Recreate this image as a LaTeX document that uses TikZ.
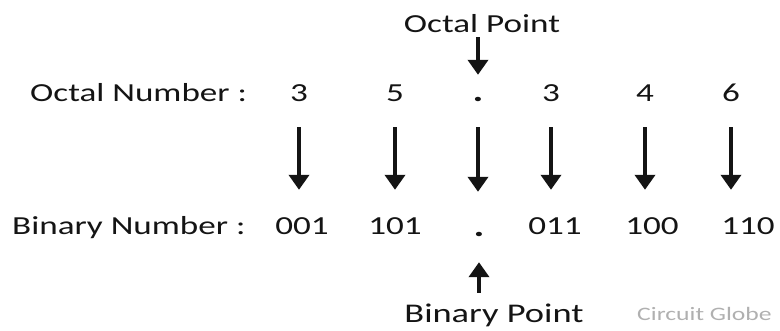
\documentclass[tikz,border=0pt]{standalone}
\usepackage{fontspec}
\setmainfont{Carlito}[FakeStretch=1.35]
\usetikzlibrary{arrows.meta}
\definecolor{inkgray}{HTML}{141414}
\definecolor{markgray}{HTML}{B0B0B0}
\tikzset{
  txt/.style={inner sep=0pt, anchor=base, text=inkgray, font=\fontsize{26}{30}\selectfont},
  digit/.style={txt, text height=17pt, text depth=0pt},
  pointdot/.style={digit, font=\fontsize{30}{30}\bfseries},
  bigarrow/.style={line width=4pt, inkgray, -{Triangle[width=20pt,length=15pt]}}
}
\begin{document}
\begin{tikzpicture}[x=1pt, y=-1pt]
            \useasboundingbox (0,0) rectangle (780,330);

            % Octal Point
            \node[txt] (opt) at (482,32) {Octal Point};

            % Numero ottale
            \node[txt, anchor=base west] (olab) at (30,101) {Octal Number :};
            \node[digit] (o1) at (299,101) {3};
            \node[digit] (o2) at (395,101) {5};
            \node[pointdot] (o3) at (478,101) {.};
            \node[digit] (o4) at (551,101) {3};
            \node[digit] (o5) at (645,101) {4};
            \node[digit] (o6) at (731,101) {6};

            % Numero binario
            \node[txt, anchor=base west] (blab) at (12,234) {Binary Number :};
            \node[digit] (b1) at (302,234) {001};
            \node[digit] (b2) at (395,234) {101};
            \node[pointdot] (b3) at (479,236) {.};
            \node[digit] (b4) at (555,234) {011};
            \node[digit] (b5) at (652,234) {100};
            \node[digit] (b6) at (748,234) {110};

            % Binary Point
            \node[digit, font=\fontsize{27}{30}\selectfont] (bpt) at (494,322) {Binary Point};
            \node[txt, anchor=base west, text=markgray, font=\fontsize{19}{22}\selectfont] (mark) at (637,320) {Circuit Globe};

            % Frecce
            \draw[bigarrow, shorten <=5pt, shorten >=9pt] (o3.north |- opt.south) -- (o3.north);
            \foreach \i in {1,...,6}
                \draw[bigarrow, shorten <=26pt, shorten >=27pt] (o\i.south) -- (o\i.south |- b\i.north);
            \draw[bigarrow, shorten <=12pt, shorten >=26pt] (bpt.north -| b3.south) -- (b3.south);
\end{tikzpicture}
\end{document}
